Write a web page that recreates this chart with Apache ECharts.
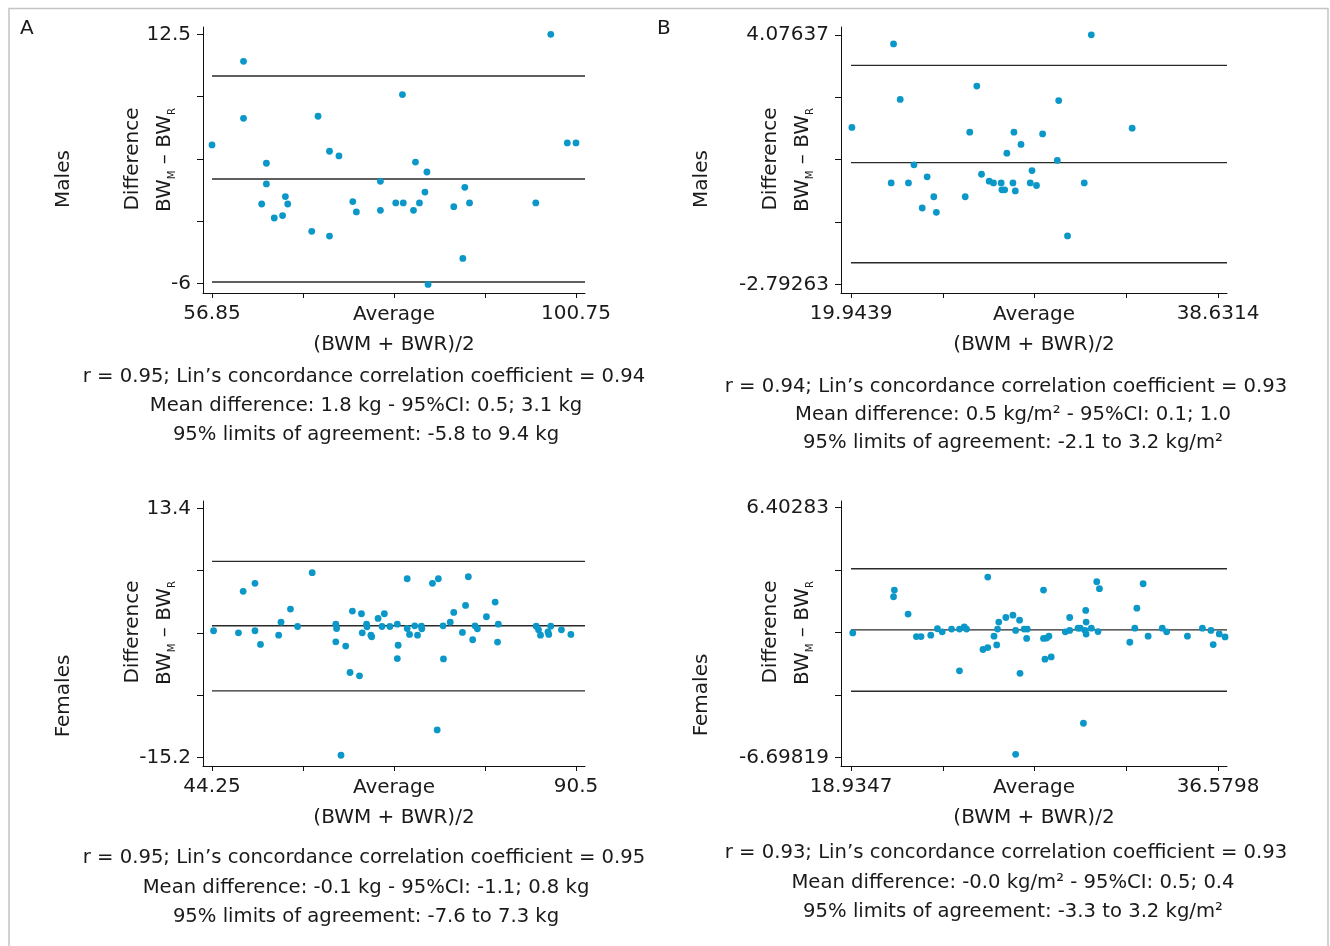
<!DOCTYPE html>
<html><head><meta charset="utf-8">
<script src="https://cdn.jsdelivr.net/npm/echarts@6/dist/echarts.min.js"></script>
<style>html,body{margin:0;padding:0;background:#fff}#c{width:1330px;height:946px}</style>
</head><body><div id="c"></div>
<script>
// ---------- DATA ----------
// Panel A, Males (kg)
const maleKgAvg = [56.85, 60.65, 60.65, 63.41, 63.41, 62.84, 64.36, 65.36, 65.70, 65.98, 68.88, 69.64, 71.02, 71.02, 72.16, 73.83, 74.26, 77.16, 77.16, 79.01, 79.82, 79.92, 81.15, 81.39, 81.87, 82.53, 82.77, 82.91, 86.01, 87.10, 87.34, 87.91, 95.90, 97.71, 99.70, 100.75];
const maleKgDiff = [4.28, 10.49, 6.26, 2.92, 1.38, -0.11, -1.15, -0.97, 0.44, -0.11, -2.14, 6.41, 3.81, -2.49, 3.46, 0.07, -0.70, 1.58, -0.58, -0.03, 8.02, -0.03, -0.58, 3.01, -0.03, 0.78, 2.27, -6.08, -0.31, -4.15, 1.13, -0.03, -0.03, 12.50, 4.43, 4.43];
const maleKgLimits = [9.4, 1.75, -5.9];
const maleKgXTicks = [56.85, 67.825, 78.8, 89.775, 100.75];
const maleKgXLabels = [56.85, 100.75];
const maleKgYTicks = [-6, -1.375, 3.25, 7.875, 12.5];
const maleKgYLabels = [-6, 12.5];

// Panel B, Males (kg/m2)
const maleBmiAvg = [19.99, 21.99, 22.11, 22.45, 22.87, 23.15, 23.57, 23.82, 24.16, 24.29, 25.76, 25.99, 26.35, 26.59, 26.98, 27.20, 27.59, 27.63, 27.77, 27.88, 28.19, 28.24, 28.31, 28.60, 29.07, 29.16, 29.39, 29.70, 30.45, 30.52, 30.97, 31.82, 32.18, 34.26, 39.10];
const maleBmiDiff = [1.53, 0.00, 3.83, 2.30, 0.00, 0.50, -0.69, 0.17, -0.38, -0.81, -0.38, 1.40, 2.67, 0.24, 0.05, 0.00, 0.00, -0.19, -0.19, 0.82, 0.00, 1.40, -0.22, 1.06, 0.00, 0.34, -0.07, 1.35, 0.62, 2.27, -1.46, 0.00, 4.08, 1.51, -2.80];
const maleBmiLimits = [3.24, 0.56, -2.2];
const maleBmiXTicks = [19.9439, 24.615775, 29.28765, 33.959525, 38.6314];
const maleBmiXLabels = [19.9439, 38.6314];
const maleBmiYTicks = [-2.79263, -1.075505, 0.64187, 2.359245, 4.07637];
const maleBmiYLabels = [-2.79263, 4.07637];

// Panel A, Females (kg)
const femaleKgAvg = [44.45, 47.61, 48.21, 49.71, 49.71, 50.41, 52.72, 53.02, 54.22, 55.12, 56.98, 59.98, 60.08, 59.98, 61.24, 60.64, 61.79, 62.09, 62.99, 63.24, 63.34, 63.89, 63.94, 64.44, 64.54, 65.35, 65.85, 66.15, 66.85, 67.80, 67.90, 67.80, 69.05, 69.05, 69.35, 70.01, 70.36, 70.86, 70.91, 72.26, 73.01, 72.86, 73.61, 73.66, 74.52, 74.97, 76.07, 76.47, 76.82, 77.37, 77.67, 77.97, 79.12, 80.23, 80.53, 80.63, 85.44, 85.74, 85.99, 86.94, 87.04, 87.29, 88.65, 89.85];
const femaleKgDiff = [-0.65, -0.88, 3.87, 4.79, -0.65, -2.22, -1.15, 0.34, 1.84, -0.16, 6.01, 0.11, -0.39, -1.92, -2.41, -14.93, -5.44, 1.61, -5.82, 1.30, -0.88, 0.11, -0.19, -1.15, -1.34, 0.77, -0.16, 1.30, -0.16, 0.11, -2.31, -3.84, 5.32, -0.39, -1.07, -0.08, -1.15, -0.12, -0.42, 4.79, 5.32, -12.02, -0.08, -3.88, 0.34, 1.46, -0.84, 2.26, 5.55, -1.68, -0.08, -0.42, 0.96, 2.64, -1.95, 0.11, -0.12, -0.54, -1.15, -0.77, -1.07, -0.12, -0.54, -1.07];
const femaleKgLimits = [7.31, -0.08, -7.54];
const femaleKgXTicks = [44.25, 55.8125, 67.375, 78.9375, 90.5];
const femaleKgXLabels = [44.25, 90.5];
const femaleKgYTicks = [-15.2, -8.05, -0.9, 6.25, 13.4];
const femaleKgYLabels = [-15.2, 13.4];

// Panel B, Females (kg/m2)
const femaleBmiAvg = [19.02, 20.98, 21.02, 21.68, 22.08, 22.30, 22.77, 23.09, 23.32, 23.77, 24.15, 24.15, 24.38, 24.49, 25.28, 25.51, 25.51, 25.81, 25.94, 25.98, 26.04, 26.38, 26.72, 26.85, 26.85, 27.04, 27.06, 27.26, 27.41, 27.38, 28.19, 28.19, 28.26, 28.34, 28.45, 28.56, 29.24, 29.45, 29.45, 29.85, 29.96, 30.11, 30.22, 30.24, 30.19, 30.24, 30.49, 30.75, 30.88, 30.81, 32.34, 32.58, 32.68, 32.98, 33.22, 33.90, 34.11, 35.11, 35.83, 36.24, 36.35, 36.64, 36.92];
const femaleBmiDiff = [-0.17, 1.73, 2.08, 0.82, -0.36, -0.36, -0.29, 0.05, -0.11, 0.03, 0.03, -2.16, 0.15, 0.03, -1.04, -0.94, 2.76, -0.34, -0.80, 0.03, 0.40, 0.64, 0.76, -0.04, -6.54, 0.50, -2.29, 0.03, 0.03, -0.46, 2.08, -0.46, -1.55, -0.44, -0.34, -1.43, -0.11, -0.04, 0.64, 0.08, 0.08, -4.91, 1.01, 0.40, -0.04, -0.23, 0.08, 2.52, 2.15, -0.10, -0.66, 0.08, 1.13, 2.41, -0.34, 0.08, -0.11, -0.34, 0.08, -0.04, -0.78, -0.22, -0.38];
const femaleBmiLimits = [3.2, -0.01, -3.23];
const femaleBmiXTicks = [18.9347, 23.345975, 27.75725, 32.168525, 36.5798];
const femaleBmiXLabels = [18.9347, 36.5798];
const femaleBmiYTicks = [-6.69819, -3.422935, -0.14768, 3.127575, 6.40283];
const femaleBmiYLabels = [-6.69819, 6.40283];

// Texts
const statsMaleKg = ['r = 0.95; Lin\u2019s concordance correlation coefficient = 0.94', 'Mean difference: 1.8 kg - 95%CI: 0.5; 3.1 kg', '95% limits of agreement: -5.8 to 9.4 kg'];
const statsMaleBmi = ['r = 0.94; Lin\u2019s concordance correlation coefficient = 0.93', 'Mean difference: 0.5 kg/m\u00b2 - 95%CI: 0.1; 1.0', '95% limits of agreement: -2.1 to 3.2 kg/m\u00b2'];
const statsFemaleKg = ['r = 0.95; Lin\u2019s concordance correlation coefficient = 0.95', 'Mean difference: -0.1 kg - 95%CI: -1.1; 0.8 kg', '95% limits of agreement: -7.6 to 7.3 kg'];
const statsFemaleBmi = ['r = 0.93; Lin\u2019s concordance correlation coefficient = 0.93', 'Mean difference: -0.0 kg/m\u00b2 - 95%CI: 0.5; 0.4', '95% limits of agreement: -3.3 to 3.2 kg/m\u00b2'];

// ---------- LAYOUT / STYLE ----------
const FONT = 'DejaVu Sans';
const INK = '#1a1a1a';
const DOT = '#0b98c9';

const panels = [
  { avg: maleKgAvg, diff: maleKgDiff, limits: maleKgLimits, xt: maleKgXTicks, xl: maleKgXLabels, yt: maleKgYTicks, yl: maleKgYLabels,
    grid: { left: 203, top: 27, width: 382, height: 266 }, padX: [9, 9], padY: [7.3, 9.7],
    group: 'Males', cx: 64, groupY: 179, titleX: 133, bwX: 165, titleY: 160, avgY: 315, stats: statsMaleKg, statsX: [364, 366, 366], statsY: [377, 406, 435] },
  { avg: maleBmiAvg, diff: maleBmiDiff, limits: maleBmiLimits, xt: maleBmiXTicks, xl: maleBmiXLabels, yt: maleBmiYTicks, yl: maleBmiYLabels,
    grid: { left: 841, top: 27, width: 386, height: 266 }, padX: [10, 9], padY: [8, 8.7],
    group: 'Males', cx: 702, groupY: 179, titleX: 771, bwX: 803, titleY: 160, avgY: 315, stats: statsMaleBmi, statsX: [1006, 1013, 1013], statsY: [386.7, 415, 443.3] },
  { avg: femaleKgAvg, diff: femaleKgDiff, limits: femaleKgLimits, xt: femaleKgXTicks, xl: femaleKgXLabels, yt: femaleKgYTicks, yl: femaleKgYLabels,
    grid: { left: 203, top: 501, width: 382, height: 265 }, padX: [9, 9], padY: [7.3, 8.4],
    group: 'Females', cx: 64, groupY: 696, titleX: 133, bwX: 165, titleY: 633, avgY: 788, stats: statsFemaleKg, statsX: [364, 366, 366], statsY: [858.3, 887.5, 916.7] },
  { avg: femaleBmiAvg, diff: femaleBmiDiff, limits: femaleBmiLimits, xt: femaleBmiXTicks, xl: femaleBmiXLabels, yt: femaleBmiYTicks, yl: femaleBmiYLabels,
    grid: { left: 841, top: 501, width: 386, height: 265 }, padX: [10, 9], padY: [6.7, 8.7],
    group: 'Females', cx: 702, groupY: 695, titleX: 771, bwX: 803, titleY: 633, avgY: 788, stats: statsFemaleBmi, statsX: [1006, 1013, 1013], statsY: [853.3, 883.3, 912.3] }
];

function padded(lo, hi, padLo, padHi, total) {
  const u = (hi - lo) / (total - padLo - padHi);
  return [lo - padLo * u, hi + padHi * u];
}

const grids = [], xAxes = [], yAxes = [], series = [], graphics = [];
const axisLineStyle = { show: true, onZero: false, lineStyle: { color: '#111', width: 1 } };
const labelBase = { color: INK, fontFamily: FONT, fontSize: 20 };

panels.forEach((p, i) => {
  grids.push(Object.assign({ containLabel: false }, p.grid));
  const xr = padded(p.xl[0], p.xl[1], p.padX[0], p.padX[1], p.grid.width);
  const yr = padded(p.yl[0], p.yl[1], p.padY[1], p.padY[0], p.grid.height);
  xAxes.push({
    type: 'value', gridIndex: i, min: xr[0], max: xr[1], position: 'bottom',
    axisLine: axisLineStyle, splitLine: { show: false },
    axisTick: { show: true, length: 5, lineStyle: { color: '#111' }, customValues: p.xt },
    axisLabel: Object.assign({}, labelBase, { customValues: p.xl, margin: 11 })
  });
  yAxes.push({
    type: 'value', gridIndex: i, min: yr[0], max: yr[1], position: 'left',
    axisLine: axisLineStyle, splitLine: { show: false },
    axisTick: { show: true, length: 6, lineStyle: { color: '#111' }, customValues: p.yt },
    axisLabel: Object.assign({}, labelBase, { customValues: p.yl, margin: 12 })
  });
  p.limits.forEach(v => {
    series.push({
      type: 'line', xAxisIndex: i, yAxisIndex: i, data: [[p.xl[0], v], [xr[1], v]],
      symbol: 'none', silent: true, lineStyle: { color: '#2a2a2a', width: 1.4 }, z: 2
    });
  });
  series.push({
    type: 'scatter', xAxisIndex: i, yAxisIndex: i,
    data: p.avg.map((x, k) => [x, p.diff[k]]),
    symbol: 'circle', symbolSize: 6.8, itemStyle: { color: DOT, opacity: 1 }, z: 3, silent: true
  });

  const cxAxis = p.grid.left + p.grid.width / 2;
  const txt = (x, y, text, extra) => ({ type: 'text', x: x, y: y, silent: true,
    style: Object.assign({ text: text, fill: INK, fontFamily: FONT, fontSize: 20, align: 'center', verticalAlign: 'middle' }, extra || {}) });
  graphics.push(Object.assign(txt(p.cx, p.groupY, p.group), { rotation: Math.PI / 2 }));
  graphics.push(Object.assign(txt(p.titleX, p.titleY - 1, 'Difference'), { rotation: Math.PI / 2 }));
  graphics.push({ type: 'text', x: p.bwX, y: p.titleY, rotation: Math.PI / 2, silent: true,
    style: { text: '{b|BW}{s|M}{b| \u2013 BW}{s|R}', align: 'center', verticalAlign: 'middle', fill: INK, fontFamily: FONT, fontSize: 20,
      rich: { b: { fontFamily: FONT, fontSize: 20, fill: INK, lineHeight: 24 }, s: { fontFamily: FONT, fontSize: 10, fill: INK, verticalAlign: 'bottom', lineHeight: 12 } } } });
  graphics.push(txt(cxAxis, p.avgY, 'Average'));
  graphics.push(txt(cxAxis, p.avgY + 29.5, '(BWM + BWR)/2'));
  p.stats.forEach((s, k) => graphics.push(txt(p.statsX[k], p.statsY[k], s, { fontSize: 19.6 })));
});

graphics.push({ type: 'text', x: 20, y: 19, silent: true, style: { text: 'A', fill: INK, fontFamily: FONT, fontSize: 20, align: 'left', verticalAlign: 'top' } });
graphics.push({ type: 'text', x: 657, y: 19, silent: true, style: { text: 'B', fill: INK, fontFamily: FONT, fontSize: 20, align: 'left', verticalAlign: 'top' } });
graphics.push({ type: 'rect', silent: true, z: -1, shape: { x: 9, y: 8.5, width: 1319, height: 960 }, style: { fill: 'none', stroke: '#c4c4c4', lineWidth: 1.5 } });

const chart = echarts.init(document.getElementById('c'), null, { renderer: 'canvas' });
chart.setOption({
  backgroundColor: '#ffffff',
  animation: false,
  grid: grids, xAxis: xAxes, yAxis: yAxes, series: series,
  graphic: { elements: graphics }
});
</script></body></html>
